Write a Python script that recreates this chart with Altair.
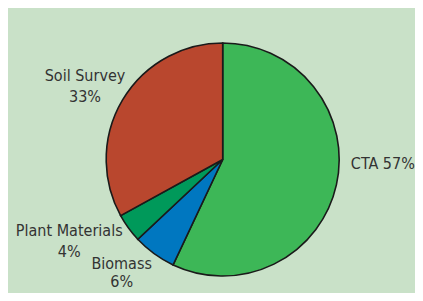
import altair as alt
import pandas as pd

categories = ["CTA", "Biomass", "Plant Materials", "Soil Survey"]
shares = [57, 6, 4, 33]
labels = ["CTA 57%", "Biomass\n6%", "Plant Materials\n4%", "Soil Survey\n33%"]
colors = ["#3db757", "#0077c0", "#00995a", "#b9472e"]

df = pd.DataFrame({"category": categories, "share": shares, "label": labels,
                   "rank": list(range(len(categories)))})

CX, CY = 214.7, 151.5
FONT = "Liberation Sans Narrow, DejaVu Sans Condensed, sans-serif"

pie = alt.Chart(df).mark_arc(outerRadius=116.5, stroke="#1a1a1a", strokeWidth=1.6).encode(
    theta=alt.Theta("share:Q", stack=True),
    order=alt.Order("rank:Q"),
    x=alt.value(CX),
    y=alt.value(CY),
    color=alt.Color("category:N", scale=alt.Scale(domain=categories, range=colors), legend=None),
)

# (dx, dy, lineHeight)
offsets = {
    "CTA": (4, -30, 21),
    "Biomass": (-7, -25, 18),
    "Plant Materials": (-24, -23, 21),
    "Soil Survey": (0, -2, 21),
}

texts = []
for cat in categories:
    dx, dy, lh = offsets[cat]
    texts.append(
        alt.Chart(df)
        .transform_window(cum="sum(share)", sort=[alt.SortField("rank")], frame=[None, 0])
        .transform_joinaggregate(total="sum(share)")
        .transform_calculate(mid="(datum.cum - datum.share / 2) / datum.total")
        .transform_filter(alt.datum.category == cat)
        .mark_text(radius=160, fontSize=16, font=FONT, color="#333333",
                   lineBreak="\n", lineHeight=lh, dx=dx, dy=dy,
                   align="center", baseline="middle")
        .encode(
            theta=alt.Theta("mid:Q", scale=alt.Scale(domain=[0, 1]), stack=None),
            x=alt.value(CX),
            y=alt.value(CY),
            text="label:N",
        )
    )

chart = alt.layer(pie, *texts).resolve_scale(theta="independent").properties(
    width=407, height=285, padding=0, autosize=alt.AutoSizeParams(type="none"),
    background="#c9e1c8",
).configure_view(stroke=None)

chart.save("out.html", embed_options={"renderer": "svg", "actions": False})
